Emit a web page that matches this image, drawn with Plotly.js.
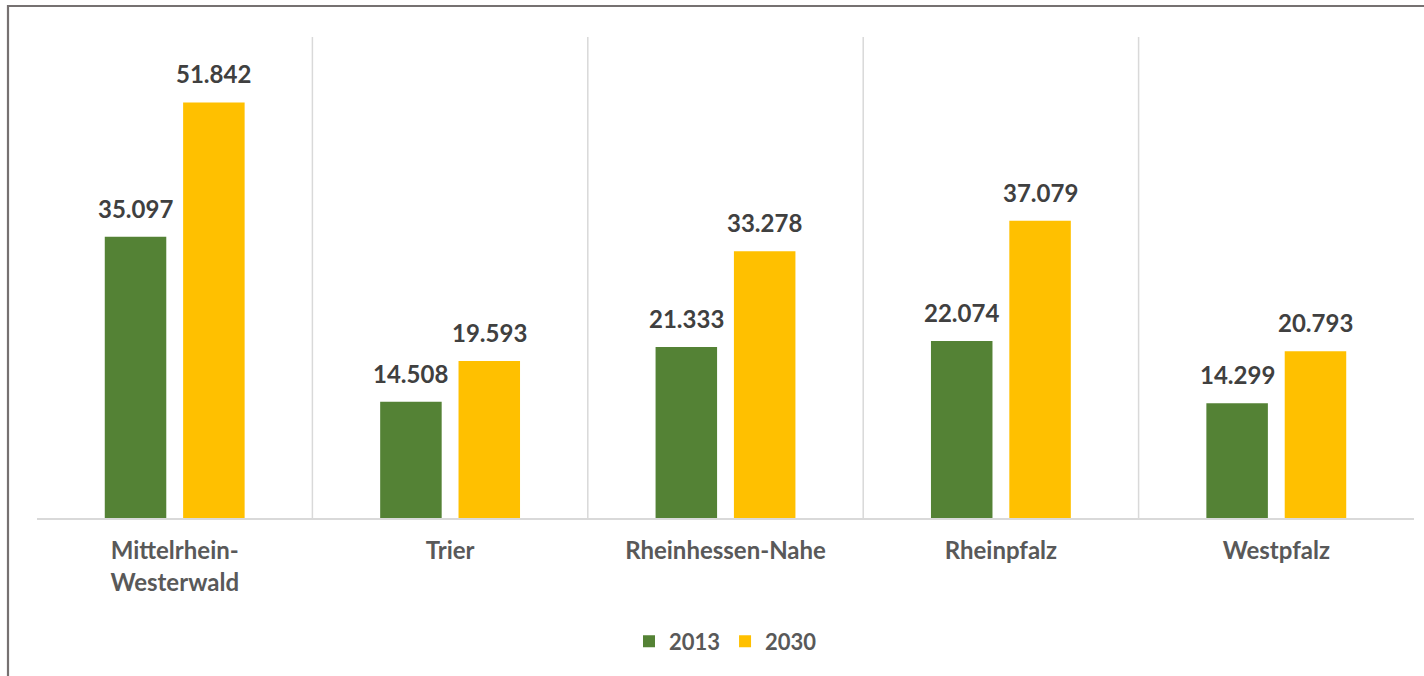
<!DOCTYPE html>
<html>
<head>
<meta charset="utf-8">
<script src="https://cdn.plot.ly/plotly-3.0.1.min.js"></script>
<style>
  html, body { margin: 0; padding: 0; background: #ffffff; }
  #chart { width: 1424px; height: 676px; }
</style>
</head>
<body>
<div id="chart"></div>
<script>
// ---- data ----
const categories = ['Mittelrhein-<br>Westerwald', 'Trier', 'Rheinhessen-Nahe', 'Rheinpfalz', 'Westpfalz'];
const seriesNames = ['2013', '2030'];
const values2013 = [35097, 14508, 21333, 22074, 14299];
const values2030 = [51842, 19593, 33278, 37079, 20793];
const seriesColors = ['#548235', '#FFC000'];

// ---- layout parameters ----
const W = 1424, H = 676;
const margin = { l: 37, r: 10, t: 37, b: 158, pad: 0 };
const bargap = 0.431, bargroupgap = 0.215;
const plotW = W - margin.l - margin.r;
const plotH = H - margin.t - margin.b;
const fontFamily = 'Lato, "Open Sans", "DejaVu Sans", sans-serif';

function fmt(v) {
  return String(v).replace(/\B(?=(\d{3})+(?!\d))/g, '.');
}

const allSeries = [values2013, values2030];
const traces = allSeries.map((vals, s) => ({
  type: 'bar',
  name: seriesNames[s],
  x: categories,
  y: vals,
  marker: { color: seriesColors[s], line: { width: 0 } },
  hoverinfo: 'x+y'
}));

// data labels as annotations, offset to each bar's slot
const slotPx = plotW / categories.length * (1 - bargap) / allSeries.length;
const annotations = [];
allSeries.forEach((vals, s) => {
  vals.forEach((v, i) => {
    annotations.push({
      x: categories[i], y: v, xref: 'x', yref: 'y',
      xshift: (s - (allSeries.length - 1) / 2) * slotPx,
      yshift: 12,
      yanchor: 'bottom', xanchor: 'center',
      text: fmt(v), showarrow: false,
      font: { family: fontFamily, size: 24, color: '#404040', weight: 'bold' }
    });
  });
});

// vertical separators between categories
const shapes = categories.slice(1).map((c, i) => ({
  type: 'line', xref: 'x', yref: 'paper',
  x0: i + 0.5, x1: i + 0.5, y0: 0, y1: 1,
  line: { color: '#d9d9d9', width: 1.5 }, layer: 'below'
}));
// outer chart frame (left & top visible)
shapes.push({
  type: 'rect', xref: 'paper', yref: 'paper',
  x0: (8 - margin.l) / plotW, x1: (W + 20 - margin.l) / plotW,
  y0: (plotH + margin.t - (H + 20)) / plotH, y1: (plotH + margin.t - 6) / plotH,
  line: { color: '#767171', width: 2.2 }, fillcolor: 'rgba(0,0,0,0)', layer: 'above'
});

const layout = {
  width: W, height: H,
  margin: margin,
  paper_bgcolor: '#ffffff', plot_bgcolor: '#ffffff',
  barmode: 'group', bargap: bargap, bargroupgap: bargroupgap,
  showlegend: true,
  legend: {
    orientation: 'h', x: 0.5, xanchor: 'center', y: 0, yanchor: 'middle',
    font: { family: fontFamily, size: 22, color: '#595959', weight: 'bold' },
    itemwidth: 30, traceorder: 'normal', bgcolor: 'rgba(0,0,0,0)'
  },
  xaxis: {
    type: 'category',
    showgrid: false, zeroline: false,
    showline: true, linecolor: '#d9d9d9', linewidth: 1.5,
    ticks: 'outside', ticklen: 11, tickcolor: 'rgba(0,0,0,0)',
    tickfont: { family: fontFamily, size: 24, color: '#595959', weight: 'bold' },
    fixedrange: true
  },
  yaxis: {
    range: [0, 60000], visible: false, showgrid: false, zeroline: false, fixedrange: true
  },
  annotations: annotations,
  shapes: shapes,
  font: { family: fontFamily }
};
// legend vertical position: centre at y≈641 px
layout.legend.y = (margin.t + plotH - 641.5) / plotH;

Plotly.newPlot('chart', traces, layout, { displayModeBar: false, staticPlot: true });
</script>
</body>
</html>
